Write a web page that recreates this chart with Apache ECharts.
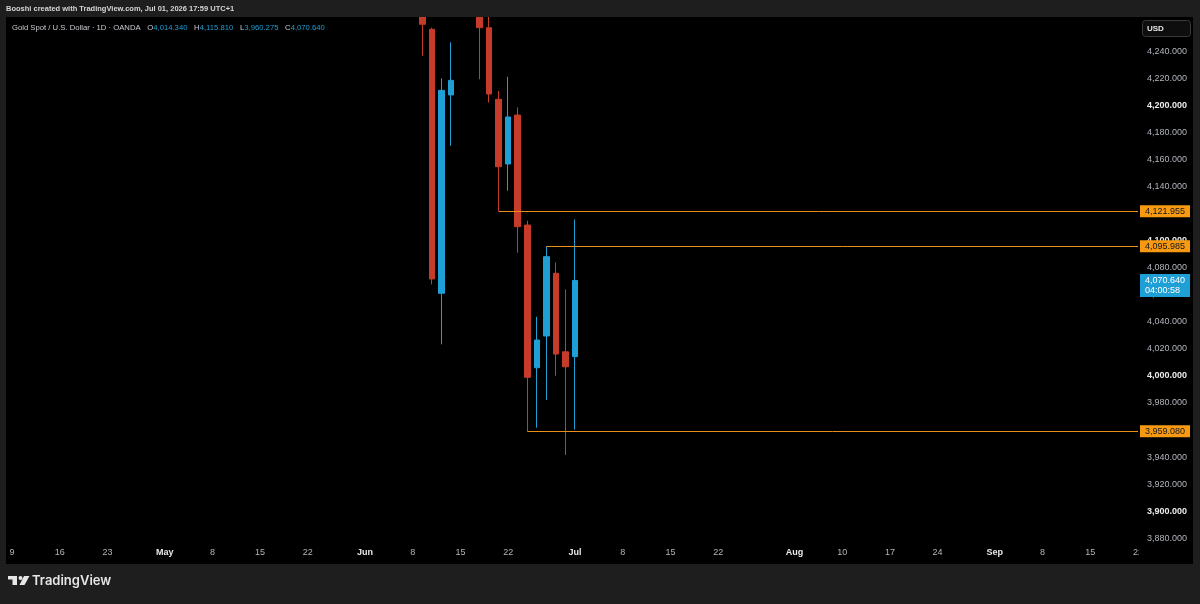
<!DOCTYPE html>
<html>
<head>
<meta charset="utf-8">
<title>Gold Spot / U.S. Dollar - 1D</title>
<script src="https://cdn.jsdelivr.net/npm/echarts@6/dist/echarts.min.js"></script>
<style>
  html, body { margin: 0; padding: 0; background: #1e1e1e; }
  #chart { width: 1200px; height: 604px; }
</style>
</head>
<body>
<div id="chart"></div>
<script>
// candles (price per candle), the ones above the pane are guessed
var candleDates = ['2026-06-09', '2026-06-10', '2026-06-11', '2026-06-12', '2026-06-15', '2026-06-16',
    '2026-06-17', '2026-06-18', '2026-06-19', '2026-06-22', '2026-06-23', '2026-06-24',
    '2026-06-25', '2026-06-26', '2026-06-29', '2026-06-30', '2026-07-01'];
var opens  = [4290.0, 4256.6, 4061.2, 4208.0, 4280.0, 4310.0, 4296.0, 4257.8, 4204.8, 4156.9, 4193.1, 4111.7, 4006.1, 4029.6, 4076.0, 4017.9, 4014.340];
var highs  = [4305.0, 4257.8, 4220.3, 4247.0, 4320.0, 4335.0, 4302.0, 4270.0, 4210.9, 4221.5, 4198.8, 4114.9, 4043.8, 4095.985, 4084.1, 4064.1, 4115.810];
var lows   = [4237.0, 4067.8, 4023.4, 4170.4, 4272.0, 4285.0, 4219.6, 4202.5, 4121.955, 4137.1, 4091.2, 3959.08, 3961.7, 3982.2, 4000.2, 3941.5, 3960.275];
var closes = [4260.3, 4071.8, 4211.4, 4218.8, 4310.0, 4298.0, 4257.8, 4208.7, 4154.9, 4191.7, 4110.5, 3999.0, 4026.6, 4088.3, 4016.2, 4006.8, 4070.640];

// horizontal rays drawn on the chart
var rayDates  = ['2026-06-19', '2026-06-26', '2026-06-24'];
var rayPrices = [4121.955, 4095.985, 3959.08];
var lastPrice = 4070.640;
var countdown = '04:00:58';

// time axis labels
var tickDates = ['2026-04-09', '2026-04-16', '2026-04-23', '2026-05-01', '2026-05-08', '2026-05-15', '2026-05-22',
    '2026-06-01', '2026-06-08', '2026-06-15', '2026-06-22', '2026-07-01', '2026-07-08', '2026-07-15', '2026-07-22',
    '2026-08-03', '2026-08-10', '2026-08-17', '2026-08-24', '2026-09-01', '2026-09-08', '2026-09-15', '2026-09-22'];
var tickTexts = ['9', '16', '23', 'May', '8', '15', '22', 'Jun', '8', '15', '22', 'Jul', '8', '15', '22',
    'Aug', '10', '17', '24', 'Sep', '8', '15', '22'];
var monthTicks = ['May', 'Jun', 'Jul', 'Aug', 'Sep'];

var BLUE = '#1e9fd6';
var RED = '#c63b29';
var ORANGE = '#f79a12';
var FONT = "'Liberation Sans', Arial, sans-serif";

// weekdays from start to end, the way the daily chart spaces its bars
function tradingDays(start, end) {
    var out = [];
    var d = new Date(start + 'T00:00:00Z');
    var e = new Date(end + 'T00:00:00Z');
    while (d <= e) {
        var wd = d.getUTCDay();
        if (wd !== 0 && wd !== 6) out.push(d.toISOString().slice(0, 10));
        d.setUTCDate(d.getUTCDate() + 1);
    }
    return out;
}

var days = tradingDays('2026-04-09', '2026-09-22');
var lastDay = days[days.length - 1];

var candleData = days.map(function (day) {
    var i = candleDates.indexOf(day);
    if (i < 0) return '-';
    return [opens[i], closes[i], lows[i], highs[i]];
});

function fmt(v) {
    return Number(v).toLocaleString('en-US', { minimumFractionDigits: 3, maximumFractionDigits: 3 });
}

var rayLines = rayDates.map(function (d, i) {
    return [
        { coord: [d, rayPrices[i]], value: rayPrices[i], label: { formatter: fmt(rayPrices[i]) } },
        { coord: [lastDay, rayPrices[i]], value: rayPrices[i] }
    ];
});
rayLines.push([
    { coord: [candleDates[candleDates.length - 1], lastPrice], value: lastPrice,
      lineStyle: { color: 'rgba(0,0,0,0)' },
      label: {
          formatter: fmt(lastPrice) + '\n' + countdown,
          backgroundColor: BLUE, color: '#ffffff', lineHeight: 10,
          padding: [2, 5, 1, 5], offset: [0, 5]
      } },
    { coord: [lastDay, lastPrice], value: lastPrice }
]);

var chart = echarts.init(document.getElementById('chart'));

var option = {
    backgroundColor: '#1e1e1e',
    animation: false,
    grid: { left: 12, top: 17, width: 1126, height: 548.1 },
    xAxis: {
        type: 'category',
        data: days,
        boundaryGap: false,
        axisLine: { show: false },
        axisTick: { show: false },
        splitLine: { show: false },
        axisLabel: {
            interval: 0,
            margin: -17,
            hideOverlap: false,
            fontFamily: FONT,
            fontSize: 9,
            color: '#b2b5be',
            formatter: function (value) {
                var i = tickDates.indexOf(value);
                if (i < 0) return '';
                var t = tickTexts[i];
                return monthTicks.indexOf(t) >= 0 ? '{m|' + t + '}' : t;
            },
            rich: { m: { fontFamily: FONT, fontSize: 9, fontWeight: 'bold', color: '#e8e8e8' } }
        }
    },
    yAxis: {
        type: 'value',
        position: 'right',
        min: 3860,
        max: 4265.7,
        interval: 20,
        scale: true,
        axisLine: { show: false },
        axisTick: { show: false },
        splitLine: { show: false },
        axisLabel: {
            margin: 9,
            fontFamily: FONT,
            fontSize: 9,
            color: '#b2b5be',
            showMinLabel: true,
            showMaxLabel: true,
            formatter: function (v) {
                var r = Math.round(v);
                if (Math.abs(v - r) > 1e-6 || r % 20 !== 0 || r < 3880 || r > 4240) return '';
                return r % 100 === 0 ? '{b|' + fmt(r) + '}' : fmt(r);
            },
            rich: { b: { fontFamily: FONT, fontSize: 9, fontWeight: 'bold', color: '#ececec' } }
        }
    },
    series: [{
        type: 'candlestick',
        data: candleData,
        barWidth: 6,
        clip: true,
        itemStyle: {
            color: BLUE, color0: RED,
            borderColor: BLUE, borderColor0: RED,
            borderWidth: 1
        },
        markLine: {
            silent: true,
            symbol: ['none', 'none'],
            animation: false,
            lineStyle: { color: '#e8901a', width: 1, type: 'solid' },
            label: {
                show: true,
                position: 'end',
                distance: 2,
                backgroundColor: ORANGE,
                color: '#131722',
                fontFamily: FONT,
                fontSize: 9,
                padding: [2, 5, 1, 5]
            },
            emphasis: { disabled: true },
            data: rayLines
        }
    }],
    graphic: [
        { type: 'rect', z: -5, shape: { x: 6, y: 17, width: 1187, height: 547 }, style: { fill: '#000000' } },
        // header strip hides what runs above the pane
        { type: 'rect', z: 40, shape: { x: 0, y: 0, width: 1200, height: 17 }, style: { fill: '#1e1e1e' } },
        // bottom-right corner cell cuts the last date label
        { type: 'rect', z: 50, shape: { x: 1139, y: 545, width: 54, height: 19 }, style: { fill: '#000000' } },
        { type: 'text', z: 60, x: 6, y: 9,
          style: { text: 'Booshi created with TradingView.com, Jul 01, 2026 17:59 UTC+1', fill: '#d6d6d6',
                   font: 'bold 7.5px ' + FONT, textVerticalAlign: 'middle' } },
        { type: 'text', z: 60, x: 12, y: 27.5,
          style: {
              text: '{t|Gold Spot / U.S. Dollar · 1D · OANDA}  {t|O}{v|' + fmt(opens[16]) + '}  {t|H}{v|' + fmt(highs[16]) +
                    '}  {t|L}{v|' + fmt(lows[16]) + '}  {t|C}{v|' + fmt(closes[16]) + '}',
              textVerticalAlign: 'middle',
              rich: {
                  t: { fontFamily: FONT, fontSize: 7.7, fill: '#c9cbd1' },
                  v: { fontFamily: FONT, fontSize: 7.7, fill: BLUE }
              }
          } },
        { type: 'rect', z: 60, shape: { x: 1142.5, y: 20.5, width: 48, height: 16, r: 3 },
          style: { fill: '#0e0e0e', stroke: '#3a3a3a', lineWidth: 1 } },
        { type: 'text', z: 61, x: 1147, y: 29,
          style: { text: 'USD', fill: '#e6e6e6', font: 'bold 8px ' + FONT, textVerticalAlign: 'middle' } },
        // TradingView logo
        { type: 'rect', z: 60, shape: { x: 8, y: 576, width: 9, height: 3.5 }, style: { fill: '#e6e6e6' } },
        { type: 'rect', z: 60, shape: { x: 12.5, y: 576, width: 4.5, height: 9 }, style: { fill: '#e6e6e6' } },
        { type: 'circle', z: 60, shape: { cx: 20.5, cy: 578, r: 2 }, style: { fill: '#e6e6e6' } },
        { type: 'polygon', z: 60, shape: { points: [[24, 576], [29.5, 576], [24.5, 585], [19.5, 585]] }, style: { fill: '#e6e6e6' } },
        { type: 'text', z: 60, x: 32, y: 581,
          style: { text: 'TradingView', fill: '#e6e6e6', font: '600 13px ' + "'Inter', 'Noto Sans', sans-serif", textVerticalAlign: 'middle' } }
    ]
};

chart.setOption(option);
</script>
</body>
</html>
